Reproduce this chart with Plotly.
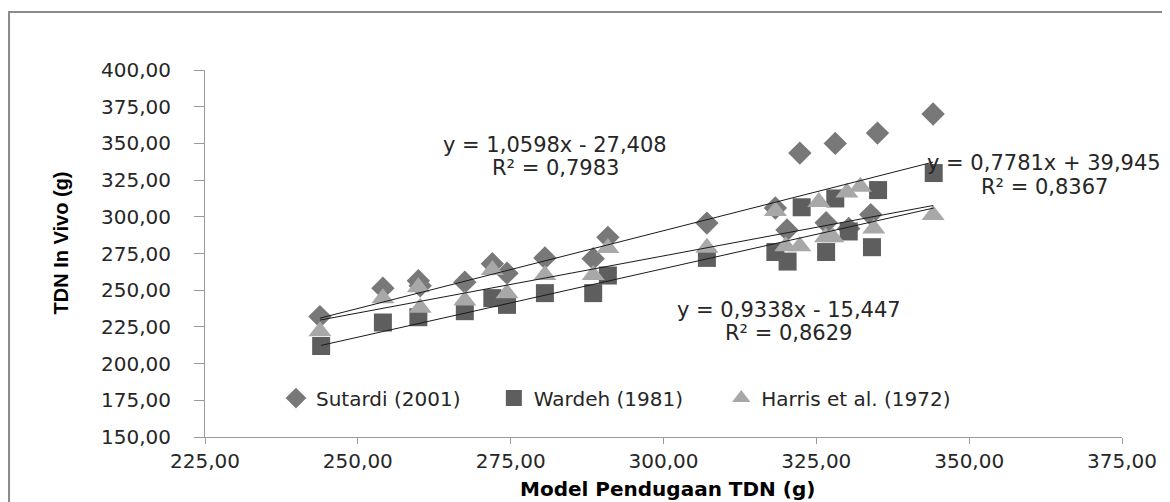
import plotly.graph_objects as go

# ---- data ----
sutardi_x = [243.8, 254.1, 259.9, 260.2, 267.5, 272.0, 274.4, 280.6, 288.5, 290.9, 307.1,
             318.3, 320.2, 322.3, 326.6, 328.1, 330.3, 333.9, 335.0, 344.1]
sutardi_y = [232.0, 251.4, 256.5, 253.0, 255.5, 268.0, 261.6, 272.0, 271.5, 286.0, 295.7,
             306.0, 291.0, 343.4, 296.0, 350.0, 292.0, 301.5, 357.0, 370.0]

wardeh_x = [244.0, 254.1, 259.9, 267.5, 272.0, 274.4, 280.6, 288.5, 290.9, 307.1,
            318.3, 320.3, 322.6, 326.6, 328.1, 330.3, 334.1, 335.1, 344.2]
wardeh_y = [212.0, 228.0, 231.6, 235.7, 244.6, 240.0, 248.0, 248.0, 260.0, 272.0,
            276.0, 269.5, 306.5, 276.0, 312.5, 290.0, 279.3, 318.2, 329.8]

harris_x = [243.8, 254.1, 259.9, 260.2, 267.5, 272.0, 274.4, 280.6, 288.5, 290.9, 307.1,
            318.3, 320.0, 322.3, 325.4, 326.5, 327.7, 330.0, 332.2, 334.4, 344.1]
harris_y = [222.0, 244.6, 252.0, 238.0, 243.0, 263.7, 248.0, 260.3, 260.3, 278.7, 279.0,
            304.0, 280.0, 280.0, 310.0, 286.0, 286.0, 316.5, 320.5, 292.0, 301.2]

series_names = ["Sutardi (2001)", "Wardeh (1981)", "Harris et al. (1972)"]
slopes = [1.0598, 0.9338, 0.7781]
intercepts = [-27.408, -15.447, 39.945]
eq_texts = ["y = 1,0598x - 27,408", "y = 0,9338x - 15,447", "y = 0,7781x + 39,945"]
r2_texts = ["R² = 0,7983", "R² = 0,8629", "R² = 0,8367"]

x_ticks = [225, 250, 275, 300, 325, 350, 375]
x_tick_labels = ["225,00", "250,00", "275,00", "300,00", "325,00", "350,00", "375,00"]
y_ticks = [150, 175, 200, 225, 250, 275, 300, 325, 350, 375, 400]
y_tick_labels = ["150,00", "175,00", "200,00", "225,00", "250,00", "275,00",
                 "300,00", "325,00", "350,00", "375,00", "400,00"]

# ---- styles ----
colors = ["#787878", "#5e5e5e", "#a8a8a8"]
symbols = ["diamond", "square", "triangle-up"]
sizes = [18, 18, 20]
FONT = "DejaVu Sans"
TXT = "#262626"
legend_ids = ["legend", "legend2", "legend3"]
legend_x = [0.0774, 0.315, 0.563]

xs = [sutardi_x, wardeh_x, harris_x]
ys = [sutardi_y, wardeh_y, harris_y]

fig = go.Figure()
for i in range(3):
    fig.add_trace(go.Scatter(
        x=xs[i], y=ys[i], mode="markers", name=series_names[i], legend=legend_ids[i],
        marker=dict(symbol=symbols[i], size=sizes[i], color=colors[i], line=dict(width=0)),
    ))

# trend lines from the displayed equations
for i in range(3):
    x0, x1 = min(xs[i]), max(xs[i])
    fig.add_trace(go.Scatter(
        x=[x0, x1], y=[slopes[i] * x0 + intercepts[i], slopes[i] * x1 + intercepts[i]],
        mode="lines", line=dict(color="#1a1a1a", width=1), showlegend=False, hoverinfo="skip",
    ))

# equation labels (data coordinates)
eq_pos = [(282.3, 348.9, 333.2), (320.5, 236.4, 220.7), (362.3, 336.6, 320.2)]
for i in range(3):
    ex, ey, ry = eq_pos[i]
    fig.add_annotation(x=ex, y=ey, xref="x", yref="y", text=eq_texts[i], showarrow=False,
                       font=dict(family=FONT, size=21, color=TXT), xanchor="center", yanchor="middle")
    fig.add_annotation(x=ex, y=ry, xref="x", yref="y", text=r2_texts[i], showarrow=False,
                       font=dict(family=FONT, size=21, color=TXT), xanchor="center", yanchor="middle")

# axis titles
fig.add_annotation(x=-0.156, y=0.53, xref="paper", yref="paper", text="<b>TDN In Vivo (g)</b>",
                   textangle=-90, showarrow=False, font=dict(family="Liberation Sans", size=20, color="#000"),
                   xanchor="center", yanchor="middle")
fig.add_annotation(x=0.504, y=-0.143, xref="paper", yref="paper", text="<b>Model Pendugaan TDN (g)</b>",
                   showarrow=False, font=dict(family=FONT, size=20, color="#000"),
                   xanchor="center", yanchor="middle")

# outer chart border
fig.add_shape(type="rect", xref="paper", yref="paper", x0=-0.2137, x1=1.07, y0=-0.21, y1=1.158,
              line=dict(color="#8a8a8a", width=2), fillcolor="rgba(0,0,0,0)", layer="below")

legend_style = dict(orientation="h", y=0.106, xanchor="left", yanchor="middle",
                    bgcolor="rgba(0,0,0,0)", font=dict(family=FONT, size=20, color=TXT),
                    itemsizing="trace")

fig.update_layout(
    width=1170, height=502,
    margin=dict(l=197, r=56, t=62, b=73),
    paper_bgcolor="white", plot_bgcolor="white",
    font=dict(family=FONT, size=20, color=TXT),
    showlegend=True,
    legend=dict(x=legend_x[0], **legend_style),
    legend2=dict(x=legend_x[1], **legend_style),
    legend3=dict(x=legend_x[2], **legend_style),
    xaxis=dict(range=[225, 375], tickvals=x_ticks, ticktext=x_tick_labels,
               showgrid=False, zeroline=False, showline=True, linecolor="#9a9a9a", linewidth=1,
               ticks="outside", ticklen=6, tickcolor="#9a9a9a",
               tickfont=dict(family=FONT, size=20, color=TXT)),
    yaxis=dict(range=[150, 400], tickvals=y_ticks, ticktext=y_tick_labels,
               showgrid=False, zeroline=False, showline=True, linecolor="#9a9a9a", linewidth=1,
               ticks="outside", ticklen=10, tickcolor="#9a9a9a", ticklabelstandoff=19,
               tickfont=dict(family=FONT, size=20, color=TXT)),
)

fig.write_html("out.html")
